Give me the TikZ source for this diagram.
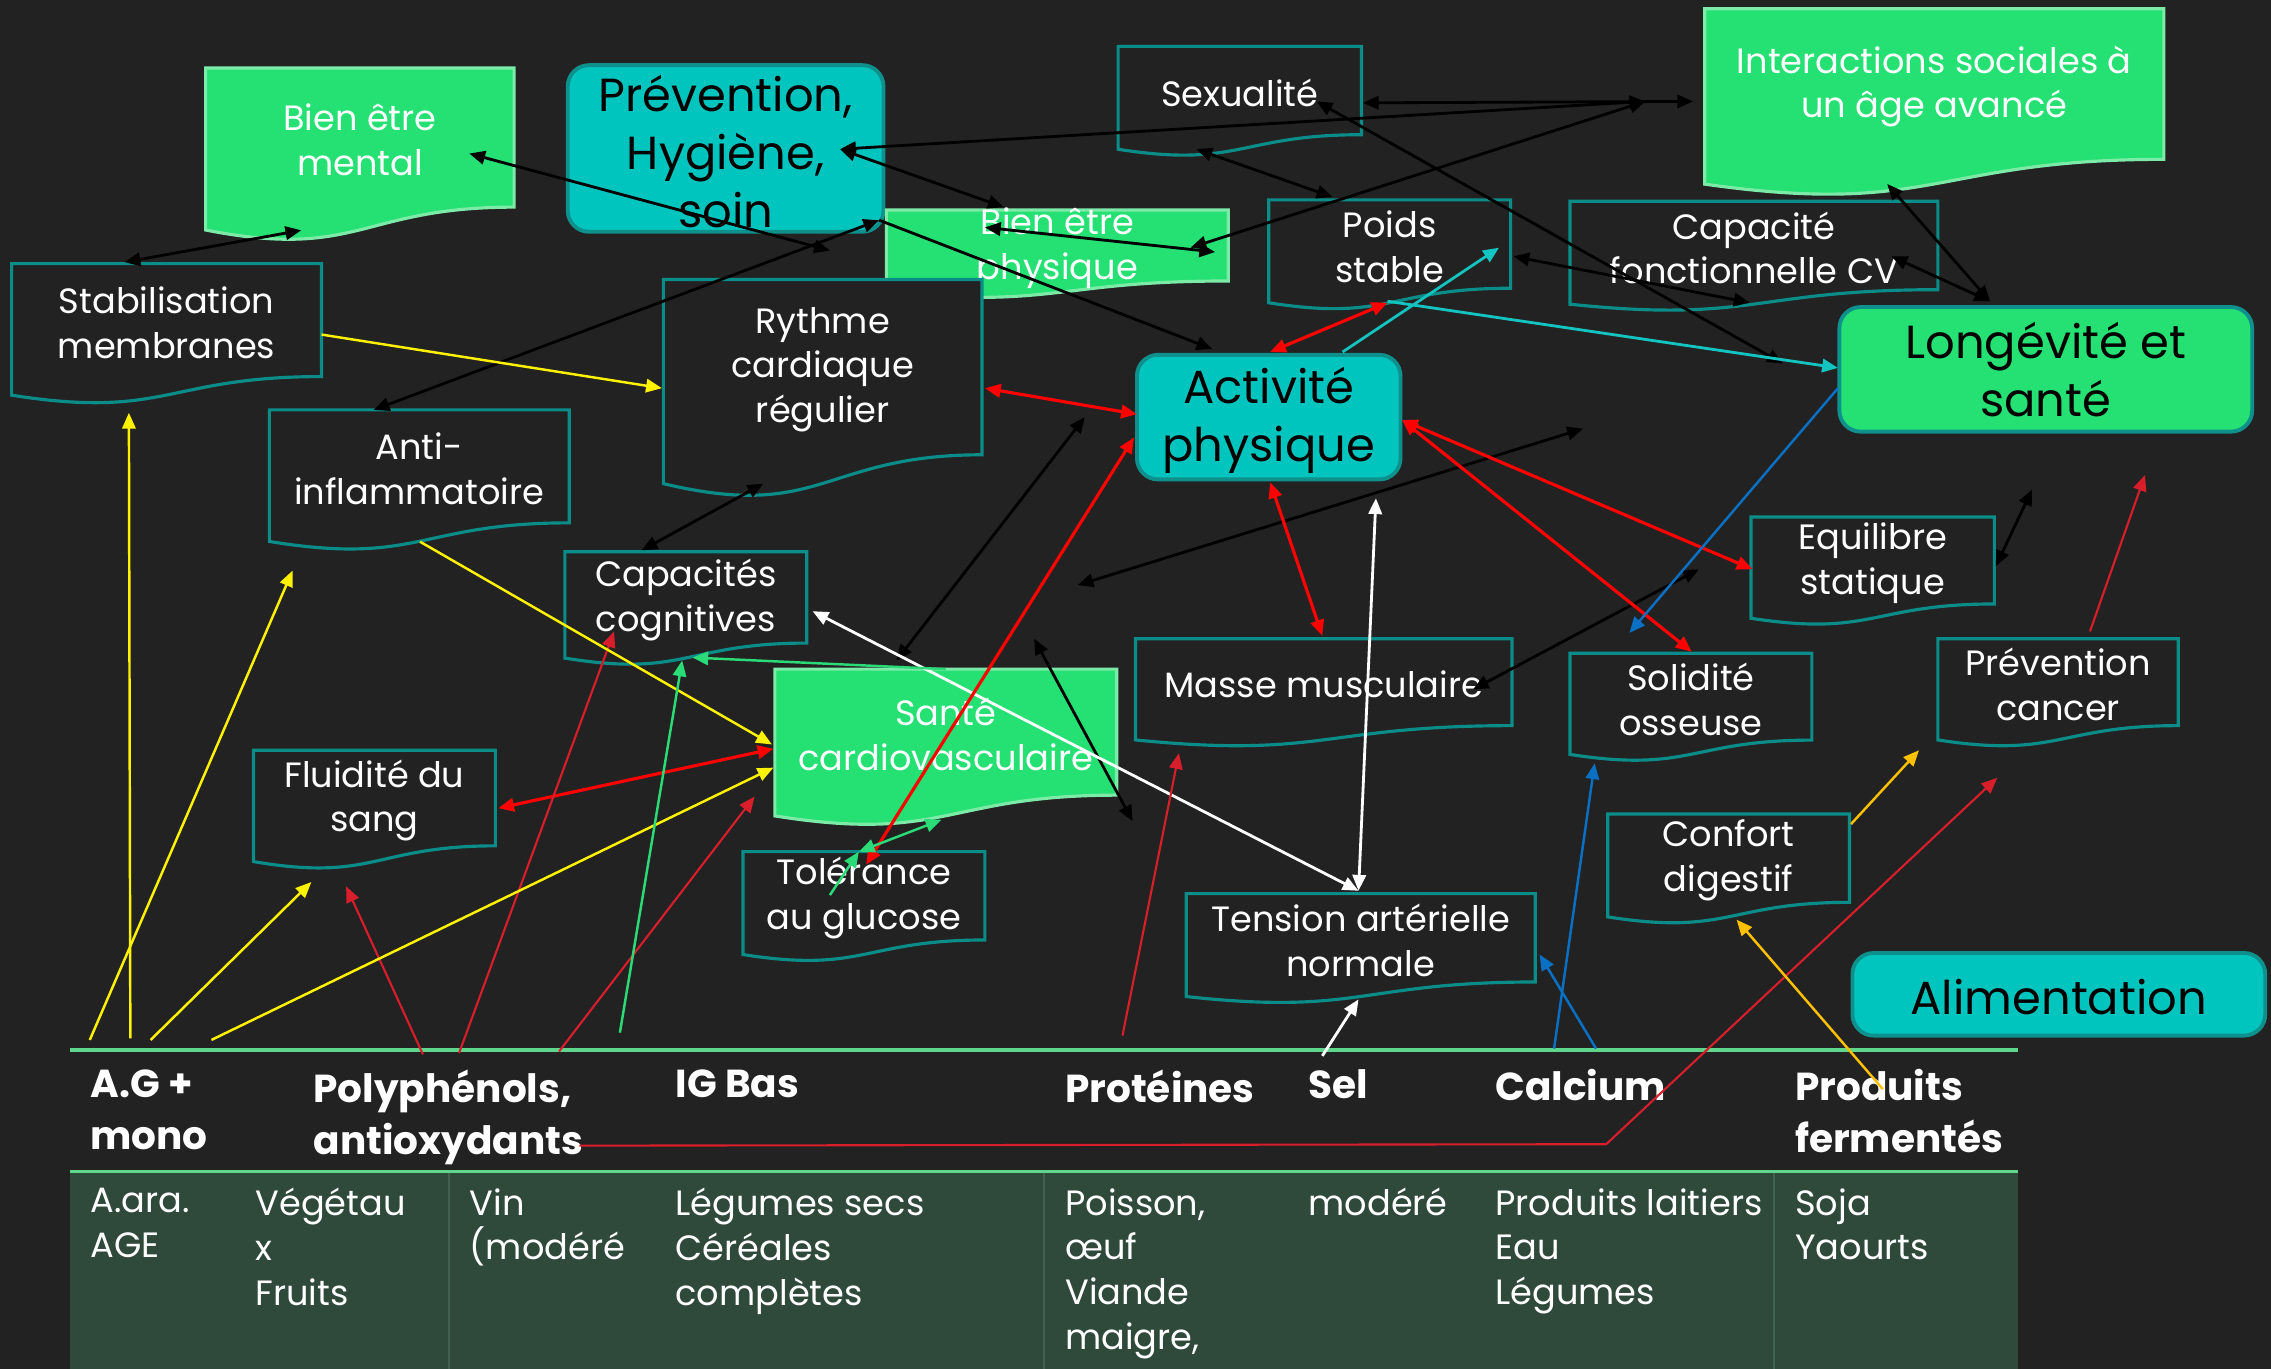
\documentclass[tikz,border=0pt]{standalone}
\usepackage{fontspec}
\setmainfont{Poppins}
\usetikzlibrary{arrows.meta}
\pgfdeclarelayer{bg}
\pgfsetlayers{bg,main}

\definecolor{bgdark}{HTML}{222222}
\definecolor{docteal}{HTML}{0A8C88}
\definecolor{boxgreen}{HTML}{25E073}
\definecolor{greenline}{HTML}{7CEBA8}
\definecolor{tealfill}{HTML}{00C5BE}
\definecolor{tealline}{HTML}{0E918C}
\definecolor{tableline}{HTML}{5ED68C}
\definecolor{tablebody}{HTML}{2F493B}
\definecolor{tablerule}{HTML}{40624F}
\definecolor{crimson}{HTML}{D81E2B}
\definecolor{amber}{HTML}{FFC000}
\definecolor{arrowgreen}{HTML}{2BDB78}
\definecolor{arrowcyan}{HTML}{14C4C0}
\definecolor{arrowblue}{HTML}{0A70C4}

\newcommand{\boxfont}{\fontsize{10}{12.75}\selectfont}
\newcommand{\bigfont}{\fontsize{13.2}{16.4}\selectfont}
\newcommand{\headfont}{\fontsize{11.1}{14.8}\selectfont\bfseries}

\tikzset{
  darkdoc/.style={fill=bgdark, draw=docteal, line width=0.9pt},
  darkdoc text/.style={text=white, align=center, font=\boxfont, inner sep=0pt, yshift=-0.7pt},
  greendoc/.style={fill=boxgreen, draw=greenline, line width=0.9pt},
  greendoc text/.style={text=white, align=center, font=\boxfont, inner sep=0pt, yshift=-0.7pt},
  tealbox/.style={fill=tealfill, draw=tealline, line width=1.1pt, rounded corners=6pt},
  tealbox text/.style={text=black, align=center, font=\bigfont, inner sep=0pt, yshift=-0.9pt},
  greenbox/.style={fill=boxgreen, draw=tealline, line width=1.1pt, rounded corners=6pt},
  greenbox text/.style={text=black, align=center, font=\bigfont, inner sep=0pt},
  head/.style={text=white, align=left, anchor=north west, inner sep=0pt, font=\headfont,
    execute at begin node=\vphantom{Élp}},
  cell/.style={text=white, align=left, anchor=north west, inner sep=0pt, font=\boxfont,
    execute at begin node=\vphantom{Élp}},
  >={Triangle[length=4.5pt,width=3.8pt]},
  blk/.style={draw=black, line width=0.8pt},
  wht/.style={draw=white, line width=0.8pt},
  redthick/.style={draw=red, line width=0.9pt},
  redthin/.style={draw=crimson, line width=0.6pt},
  yel/.style={draw=yellow, line width=0.7pt},
  amb/.style={draw=amber, line width=0.7pt},
  grn/.style={draw=arrowgreen, line width=0.7pt},
  cya/.style={draw=arrowcyan, line width=0.8pt},
  blu/.style={draw=arrowblue, line width=0.7pt},
}

% document shape: name, x1, y1, x2, y2 (right side end), style, text
\newcommand{\docbox}[7]{%
  \path[#6] (#2,#3) -- (#4,#3) -- (#4,#5)
    .. controls ({(#2+#4)/2},#5) and ({(#2+#4)/2},{#3+1.381*(#5-#3)})
    .. (#2,{#3+1.1646*(#5-#3)}) -- cycle;
  \node[#6 text] (#1) at ({(#2+#4)/2},{(#3+#5)/2}) {#7};
}
% rounded box: name, x1, y1, x2, y2, style, text
\newcommand{\roundbox}[7]{%
  \path[#6] (#2,#3) rectangle (#4,#5);
  \node[#6 text] (#1) at ({(#2+#4)/2},{(#3+#5)/2}) {#7};
}

\begin{document}
\begin{tikzpicture}[x=0.014483cm, y=-0.014483cm]
        \useasboundingbox (0,0) rectangle (1568,945);
        \begin{pgfonlayer}{bg}
                \fill[bgdark] (0,0) rectangle (1568,945);
                \fill[tablebody] (48,809) rectangle (1393,945);
                \foreach \x in {310,721,1225}
                        \draw[tablerule, line width=0.5pt] (\x,809) -- (\x,945);
                \draw[tableline, line width=1pt] (48,725) -- (1393,725);
                \draw[tableline, line width=1pt] (48,809) -- (1393,809);
        \end{pgfonlayer}

        % boxes
        \docbox{mental}{142}{47}{355}{143}{greendoc}{Bien être\\mental}
        \roundbox{prev}{392}{45}{610}{160}{tealbox}{Prévention,\\Hygiène,\\soin}
        \docbox{sexu}{772}{32}{940}{93}{darkdoc}{Sexualité}
        \docbox{inter}{1177}{6}{1494}{110}{greendoc}{Interactions sociales à\\un âge avancé}
        \docbox{physi}{612}{145}{848}{194}{greendoc}{Bien être\\physique}
        \docbox{stab}{8}{182}{222}{260}{darkdoc}{Stabilisation\\membranes}
        \docbox{rythme}{458}{193}{678}{314}{darkdoc}{Rythme\\cardiaque\\régulier}
        \docbox{poids}{876}{138}{1043}{199}{darkdoc}{Poids\\stable}
        \docbox{capcv}{1084}{139}{1338}{200}{darkdoc}{Capacité\\fonctionnelle CV}
        \roundbox{activ}{785}{245}{967}{331}{tealbox}{Activité\\physique}
        \roundbox{longev}{1270}{212}{1555}{298}{greenbox}{Longévité et\\santé}
        \docbox{anti}{186}{283}{393}{361}{darkdoc}{Anti-\\inflammatoire}
        \docbox{equil}{1209}{357}{1377}{417}{darkdoc}{Equilibre\\statique}
        \docbox{cogn}{390}{381}{557}{444}{darkdoc}{Capacités\\cognitives}
        \docbox{masse}{784}{441}{1044}{501}{darkdoc}{Masse musculaire}
        \docbox{solid}{1084}{451}{1251}{511}{darkdoc}{Solidité\\osseuse}
        \docbox{cancer}{1338}{441}{1504}{501}{darkdoc}{Prévention\\cancer}
        \docbox{sante}{535}{462}{771}{549}{greendoc}{Santé\\cardiovasculaire}
        \docbox{fluid}{175}{518}{342}{584}{darkdoc}{Fluidité du\\sang}
        \docbox{confort}{1110}{562}{1277}{623}{darkdoc}{Confort\\digestif}
        \docbox{tol}{513}{588}{680}{649}{darkdoc}{Tolérance\\au glucose}
        \docbox{tension}{819}{617}{1060}{678}{darkdoc}{Tension artérielle\\normale}
        \roundbox{alim}{1279}{658}{1564}{715}{tealbox}{Alimentation}

        % table
        \node[head] (h1) at (62,738) {A.G +\\mono};
        \node[head] (h2) at (216,738) {Polyphénols,\\antioxydants};
        \node[head] (h3) at (466,738) {IG Bas\\};
        \node[head] (h4) at (735,738) {Protéines\\};
        \node[head] (h5) at (903,738) {Sel\\};
        \node[head] (h6) at (1032,738) {Calcium\\};
        \node[head] (h7) at (1239,738) {Produits\\fermentés};
        \node[cell] (t1) at (62,820) {A.ara.\\AGE};
        \node[cell] (t2) at (176,820) {Végétau\\x\\Fruits};
        \node[cell] (t3) at (324,820) {Vin\\(modéré};
        \node[cell] (t4) at (466,820) {Légumes secs\\Céréales\\complètes};
        \node[cell] (t5) at (735,820) {Poisson,\\œuf\\Viande\\maigre,};
        \node[cell] (t6) at (903,820) {modéré\\};
        \node[cell] (t7) at (1032,820) {Produits laitiers\\Eau\\Légumes};
        \node[cell] (t8) at (1239,820) {Soja\\Yaourts};

        % arrow ends
        \coordinate (mental-s) at (208,159);
        \coordinate (stab-n) at (86,181);
        \coordinate (mental-e) at (324,106);
        \coordinate (mid-a) at (573,173);
        \coordinate (anti-n) at (258,283);
        \coordinate (prev-se) at (607,152);
        \coordinate (activ-n) at (837,241);
        \coordinate (prev-e) at (580,103);
        \coordinate (physi-n) at (693,143);
        \coordinate (mid-b) at (1136,70);
        \coordinate (physi-w) at (680,157);
        \coordinate (physi-e) at (839,174);
        \coordinate (physi-ne) at (822,171);
        \coordinate (sexu-e) at (941,71);
        \coordinate (inter-w) at (1169,70);
        \coordinate (sexu-s) at (826,103);
        \coordinate (poids-n) at (920,136);
        \coordinate (sexu-t) at (909,70);
        \coordinate (mid-c) at (1231,251);
        \coordinate (poids-e) at (1045,177);
        \coordinate (capcv-s) at (1208,209);
        \coordinate (inter-s) at (1303,127);
        \coordinate (longev-n) at (1374,208);
        \coordinate (capcv-e) at (1306,177);
        \coordinate (equil-e) at (1378,391);
        \coordinate (mid-d) at (1403,338);
        \coordinate (masse-e) at (1017,476);
        \coordinate (mid-e) at (1173,393);
        \coordinate (mid-f) at (744,404);
        \coordinate (mid-g) at (1093,296);
        \coordinate (sante-n) at (619,456);
        \coordinate (mid-h) at (749,288);
        \coordinate (mid-i) at (714,441);
        \coordinate (mid-j) at (782,567);
        \coordinate (rythme-s) at (527,334);
        \coordinate (cogn-n) at (443,380);
        \coordinate (cogn-e) at (561,422);
        \coordinate (tension-n) at (938,615);
        \coordinate (mid-k) at (950,344);
        \coordinate (sel) at (913,729);
        \coordinate (tension-s) at (938,690);
        \coordinate (rythme-e) at (680,268);
        \coordinate (activ-w) at (785,286);
        \coordinate (activ-nw) at (877,243);
        \coordinate (poids-s) at (958,209);
        \coordinate (activ-s) at (877,333);
        \coordinate (masse-n) at (913,439);
        \coordinate (activ-e) at (968,290);
        \coordinate (equil-w) at (1210,393);
        \coordinate (solid-n) at (1168,450);
        \coordinate (activ-sw) at (783,302);
        \coordinate (tol-n) at (598,597);
        \coordinate (fluid-e) at (344,558);
        \coordinate (sante-w) at (534,517);
        \coordinate (poly-a) at (292,728);
        \coordinate (mid-l) at (239,612);
        \coordinate (poly-b) at (317,727);
        \coordinate (cogn-s) at (424,436);
        \coordinate (poly-c) at (386,726);
        \coordinate (mid-m) at (521,550);
        \coordinate (prot) at (775,715);
        \coordinate (masse-s) at (814,520);
        \coordinate (poly-d) at (400,791);
        \coordinate (mid-n) at (1109,790);
        \coordinate (mid-o) at (1379,537);
        \coordinate (cancer-n) at (1443,436);
        \coordinate (mid-p) at (1481,328);
        \coordinate (stab-e) at (222,231);
        \coordinate (rythme-w) at (457,268);
        \coordinate (ag-a) at (90,717);
        \coordinate (stab-s) at (89,285);
        \coordinate (ag-b) at (62,718);
        \coordinate (mid-q) at (202,394);
        \coordinate (ag-c) at (104,718);
        \coordinate (mid-r) at (215,609);
        \coordinate (ag-d) at (146,718);
        \coordinate (sante-w2) at (534,530);
        \coordinate (anti-s) at (290,374);
        \coordinate (sante-w3) at (533,514);
        \coordinate (confort-e) at (1278,569);
        \coordinate (mid-s) at (1325,518);
        \coordinate (ferm) at (1300,752);
        \coordinate (confort-s) at (1199,635);
        \coordinate (igbas) at (428,713);
        \coordinate (cogn-s2) at (471,456);
        \coordinate (sante-n2) at (653,462);
        \coordinate (cogn-s3) at (478,454);
        \coordinate (tol-a) at (573,618);
        \coordinate (tol-b) at (593,588);
        \coordinate (sante-s) at (650,566);
        \coordinate (activ-ne) at (927,243);
        \coordinate (poids-se) at (1035,171);
        \coordinate (poids-s2) at (958,208);
        \coordinate (longev-w) at (1269,254);
        \coordinate (longev-w2) at (1269,268);
        \coordinate (solid-nw) at (1125,437);
        \coordinate (calc-a) at (1073,724);
        \coordinate (solid-s) at (1101,527);
        \coordinate (calc-b) at (1102,724);
        \coordinate (tension-e) at (1063,659);

        % connectors
        \draw (mental-s) edge [blk, <->] (stab-n);
        \draw (mental-e) edge [blk, <->] (mid-a);
        \draw (anti-n) edge [blk, <->] (prev-se);
        \draw (prev-se) edge [blk, ->] (activ-n);
        \draw (prev-e) edge [blk, <->] (physi-n);
        \draw (prev-e) edge [blk, <->] (mid-b);
        \draw (physi-w) edge [blk, <->] (physi-e);
        \draw (physi-ne) edge [blk, <->] (mid-b);
        \draw (sexu-e) edge [blk, <->] (inter-w);
        \draw (sexu-s) edge [blk, <->] (poids-n);
        \draw (sexu-t) edge [blk, <->] (mid-c);
        \draw (poids-e) edge [blk, <->] (capcv-s);
        \draw (inter-s) edge [blk, <->] (longev-n);
        \draw (capcv-e) edge [blk, <->] (longev-n);
        \draw (equil-e) edge [blk, <->] (mid-d);
        \draw (masse-e) edge [blk, <->] (mid-e);
        \draw (mid-f) edge [blk, <->] (mid-g);
        \draw (sante-n) edge [blk, <->] (mid-h);
        \draw (mid-i) edge [blk, <->] (mid-j);
        \draw (rythme-s) edge [blk, <->] (cogn-n);
        \draw (cogn-e) edge [wht, <->] (tension-n);
        \draw (tension-n) edge [wht, <->] (mid-k);
        \draw (sel) edge [wht, ->] (tension-s);
        \draw (rythme-e) edge [redthick, <->] (activ-w);
        \draw (activ-nw) edge [redthick, <->] (poids-s);
        \draw (activ-s) edge [redthick, <->] (masse-n);
        \draw (activ-e) edge [redthick, <->] (equil-w);
        \draw (activ-e) edge [redthick, <->] (solid-n);
        \draw (activ-sw) edge [redthick, <->] (tol-n);
        \draw (fluid-e) edge [redthick, <->] (sante-w);
        \draw (poly-a) edge [redthin, ->] (mid-l);
        \draw (poly-b) edge [redthin, ->] (cogn-s);
        \draw (poly-c) edge [redthin, ->] (mid-m);
        \draw (prot) edge [redthin, ->] (masse-s);
        \draw[redthin, ->] (poly-d) -- (mid-n) -- (mid-o);
        \draw (cancer-n) edge [redthin, ->] (mid-p);
        \draw (stab-e) edge [yel, ->] (rythme-w);
        \draw (ag-a) edge [yel, ->] (stab-s);
        \draw (ag-b) edge [yel, ->] (mid-q);
        \draw (ag-c) edge [yel, ->] (mid-r);
        \draw (ag-d) edge [yel, ->] (sante-w2);
        \draw (anti-s) edge [yel, ->] (sante-w3);
        \draw (confort-e) edge [amb, ->] (mid-s);
        \draw (ferm) edge [amb, ->] (confort-s);
        \draw (igbas) edge [grn, ->] (cogn-s2);
        \draw (sante-n2) edge [grn, ->] (cogn-s3);
        \draw (tol-a) edge [grn, ->] (tol-b);
        \draw (tol-b) edge [grn, <->] (sante-s);
        \draw (activ-ne) edge [cya, ->] (poids-se);
        \draw (poids-s2) edge [cya, ->] (longev-w);
        \draw (longev-w2) edge [blu, ->] (solid-nw);
        \draw (calc-a) edge [blu, ->] (solid-s);
        \draw (calc-b) edge [blu, ->] (tension-e);
\end{tikzpicture}
\end{document}
